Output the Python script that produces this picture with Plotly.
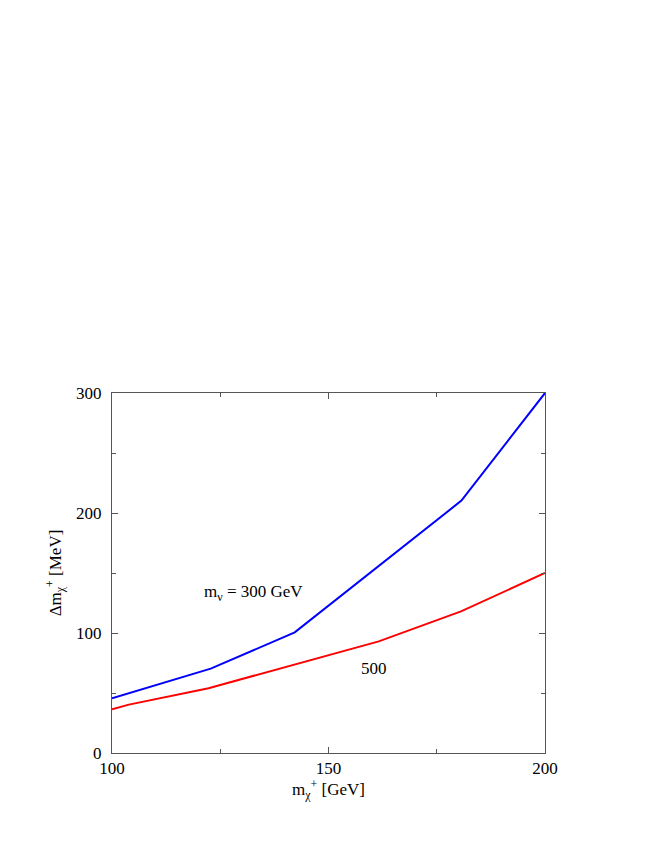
import plotly.graph_objects as go

# data
x_blue = [100, 122.8, 142.2, 180.7, 200]
y_blue = [45.5, 70.3, 100.5, 210.3, 300]
x_red = [100, 103.9, 122.3, 142.2, 161.6, 180.6, 200]
y_red = [36.5, 40.3, 54.0, 74.0, 93.0, 118.0, 150.0]

x_ticks = [100, 150, 200]
y_ticks = [0, 100, 200, 300]

FONT = "Times New Roman, Liberation Serif, serif"
FS = 17

fig = go.Figure()
fig.add_trace(go.Scatter(x=x_blue, y=y_blue, mode="lines",
                         line=dict(color="#0000ff", width=2), showlegend=False))
fig.add_trace(go.Scatter(x=x_red, y=y_red, mode="lines",
                         line=dict(color="#ff0000", width=2), showlegend=False))

axis_common = dict(showgrid=False, zeroline=False, showline=True, linecolor="#555555",
                   linewidth=1, mirror="ticks", ticks="inside", ticklen=6,
                   tickcolor="#555555", tickfont=dict(family=FONT, size=FS, color="black"))

fig.update_xaxes(range=[100, 200], tickvals=x_ticks, ticktext=[str(v) for v in x_ticks],
                 minor=dict(tickvals=[125, 175], ticks="inside", ticklen=4, tickcolor="#555555"),
                 ticklabelstandoff=0,
                 **axis_common)
fig.update_yaxes(range=[0, 300], tickvals=y_ticks, ticktext=[str(v) for v in y_ticks],
                 minor=dict(tickvals=[50, 150, 250], ticks="inside", ticklen=4, tickcolor="#555555"),
                 ticklabelstandoff=6,
                 title=dict(text="Δm<sub>χ</sub><sup>+</sup> [MeV]", font=dict(family=FONT, size=FS, color="black"),
                            standoff=10),
                 **axis_common)

fig.add_annotation(x=150, y=0, yref="y", xref="x", yanchor="top", yshift=-22,
                   text="m<sub>χ</sub><sup>+</sup> [GeV]", showarrow=False,
                   font=dict(family=FONT, size=FS, color="black"))
fig.add_annotation(x=132.7, y=133.6, text="m<sub>ν</sub> = 300 GeV", showarrow=False,
                   font=dict(family=FONT, size=FS, color="black"))
fig.add_annotation(x=160.6, y=70.3, text="500", showarrow=False,
                   font=dict(family=FONT, size=FS, color="black"))

fig.update_layout(width=658, height=851, paper_bgcolor="white", plot_bgcolor="white",
                  margin=dict(l=104, r=121, t=385, b=106))

fig.write_html("out.html")
